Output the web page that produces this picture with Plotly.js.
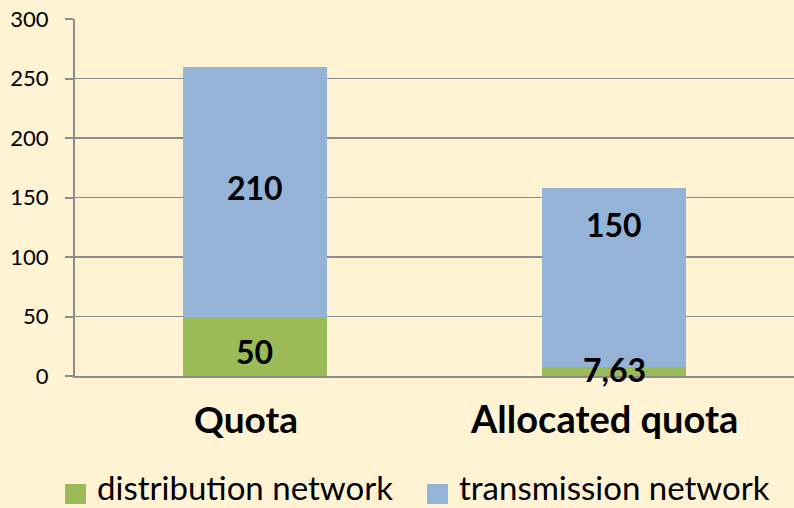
<!DOCTYPE html>
<html><head><meta charset="utf-8">
<script src="https://cdn.plot.ly/plotly-3.0.1.min.js"></script>
<style>html,body{margin:0;padding:0;background:#FFF3D4;}</style>
</head><body>
<div id="chart" style="width:794px;height:508px;"></div>
<script>
const categories = ["Quota", "Allocated quota"];
const distribution = [50, 7.63];
const transmission = [210, 150];
const distributionLabels = ["50", "7,63"];
const transmissionLabels = ["210", "150"];
const seriesNames = ["distribution network", "transmission network"];

const green = "#9BBB59", blue = "#95B3D7";
const FONT = "Lato, sans-serif";
const traces = [
  {type:"bar", name:seriesNames[0], x:categories, y:distribution, marker:{color:green}, width:0.4, hoverinfo:"none", showlegend:false},
  {type:"bar", name:seriesNames[1], x:categories, y:transmission, marker:{color:blue}, width:0.4, hoverinfo:"none", showlegend:false}
];
// label vertical nudges (pixels) to match reference placement
const distShift = [-5, 2];
const transShift = [4, 0];
const catShift = [-9, -10];
const catSize = [37, 38];
const transLabelY = [distribution[0] + transmission[0]/2, distribution[1] + transmission[1]*0.8];
const annotations = [];
const shapes = [];
categories.forEach((c,i)=>{
  annotations.push({x:c, y:distribution[i]/2, text:"<b>"+distributionLabels[i]+"</b>", showarrow:false, yshift:distShift[i], font:{family:FONT, size:32, color:"#000"}});
  annotations.push({x:c, y:transLabelY[i], text:"<b>"+transmissionLabels[i]+"</b>", showarrow:false, yshift:transShift[i], font:{family:FONT, size:32, color:"#000"}});
  annotations.push({x:c, yref:"paper", y:0, yanchor:"middle", yshift:-42, xshift:catShift[i], text:"<b>"+c+"</b>", showarrow:false, font:{family:FONT, size:catSize[i], color:"#000"}});
});
// manual legend (plot area spans x 75..794 px, y 19..376 px)
const px = v => (v - 75) / 719;
const py = v => (376 - v) / 357;
const legendItems = [{name:seriesNames[0], color:green, x0:65}, {name:seriesNames[1], color:blue, x0:427}];
legendItems.forEach(it=>{
  shapes.push({type:"rect", xref:"paper", yref:"paper", x0:px(it.x0), x1:px(it.x0+21), y0:py(504), y1:py(484), fillcolor:it.color, line:{width:0}});
  annotations.push({xref:"paper", yref:"paper", x:px(it.x0+31), y:py(487), xanchor:"left", yanchor:"middle", text:it.name, showarrow:false, borderpad:0, font:{family:FONT, size:33, color:"#000"}});
});
const layout = {
  width:794, height:508,
  paper_bgcolor:"#FFF3D4", plot_bgcolor:"#FFF3D4",
  margin:{l:75, r:0, t:19, b:132},
  barmode:"stack",
  font:{family:FONT, color:"#000"},
  showlegend:false,
  xaxis:{showline:true, linecolor:"#8C8C8C", linewidth:2, ticks:"", showticklabels:false, fixedrange:true},
  yaxis:{range:[0,300], dtick:50, showline:true, linecolor:"#8C8C8C", linewidth:2, gridcolor:"#8C8C8C", gridwidth:1.5, ticks:"outside", ticklen:8, tickcolor:"#8C8C8C", tickwidth:2, tickfont:{size:22, family:FONT}, ticklabelstandoff:12, zeroline:false, fixedrange:true},
  annotations:annotations,
  shapes:shapes
};
Plotly.newPlot("chart", traces, layout, {staticPlot:true, displayModeBar:false});
</script>
</body></html>
